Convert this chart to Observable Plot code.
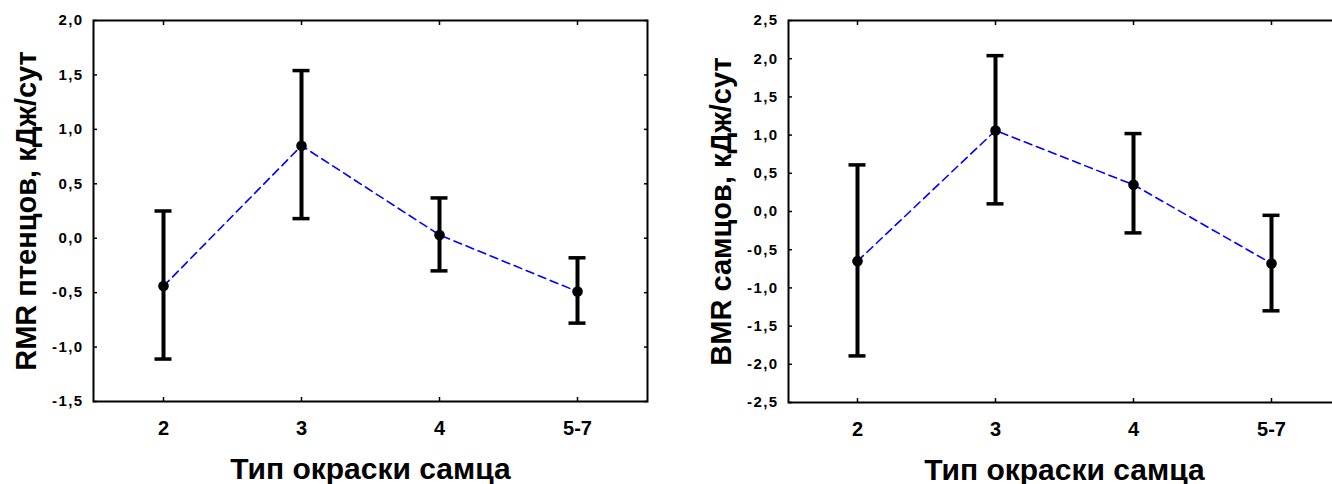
<!DOCTYPE html>
<html><head><meta charset="utf-8">
<script src="https://cdn.jsdelivr.net/npm/d3@7"></script>
<script src="https://cdn.jsdelivr.net/npm/@observablehq/plot@0.6"></script>
<style>
body{margin:0;background:#fff;overflow:hidden}
#wrap{position:relative;width:1332px;height:484px;overflow:hidden;background:#fff}
#a,#b{position:absolute;top:0}
#a{left:0;width:666px}
#b{left:666px;width:684px}
#wrap svg{max-width:none !important}
.yt text{letter-spacing:1.4px}
</style></head><body><div id="wrap"><div id="a"></div><div id="b"></div></div>
<script>
const categories = ["2", "3", "4", "5-7"];
const rmrMean = [-0.44, 0.85, 0.03, -0.49];
const rmrUpper = [0.25, 1.54, 0.37, -0.18];
const rmrLower = [-1.11, 0.18, -0.30, -0.78];
const bmrMean = [-0.65, 1.06, 0.35, -0.68];
const bmrUpper = [0.61, 2.04, 1.02, -0.05];
const bmrLower = [-1.89, 0.10, -0.28, -1.30];
const rmrTicks = [-1.5, -1.0, -0.5, 0.0, 0.5, 1.0, 1.5, 2.0];
const bmrTicks = [-2.5, -2.0, -1.5, -1.0, -0.5, 0.0, 0.5, 1.0, 1.5, 2.0, 2.5];
const xTitle = "Тип окраски самца";
const rmrTitle = "RMR птенцов, кДж/сут";
const bmrTitle = "BMR самцов, кДж/сут";

function chart({mean, upper, lower, ticks, yTitle, width, marginLeft, marginRight, marginBottom}) {
  const data = categories.map((c, i) => ({cat: c, m: mean[i], hi: upper[i], lo: lower[i]}));
  const fmt = d => d.toFixed(1).replace(".", ",");
  const cap = {x1: "cat", x2: "cat", insetLeft: -8.5, insetRight: -8.5, stroke: "#000", strokeWidth: 3.5};
  return Plot.plot({
    width, height: 484, marginTop: 20, marginBottom, marginLeft, marginRight,
    style: {fontFamily: "'Liberation Sans', Arial, sans-serif", fontWeight: "bold", color: "#000", background: "#fff", overflow: "visible", maxWidth: "none"},
    x: {type: "point", domain: categories, padding: 0.5},
    y: {domain: [ticks[0], ticks[ticks.length - 1]]},
    marks: [
      Plot.axisY(ticks, {anchor: "left", tickSize: -4, tickPadding: 14, tickFormat: fmt, fontSize: 15, label: null, strokeWidth: 1.5, className: "yt"}),
      Plot.axisY(ticks, {anchor: "right", tickSize: -4, tickFormat: () => "", label: null, strokeWidth: 1.5}),
      Plot.axisX(categories, {anchor: "bottom", tickSize: -4, tickPadding: 23, fontSize: 20, label: null, strokeWidth: 1.5}),
      Plot.axisX(categories, {anchor: "top", tickSize: -4, tickFormat: () => "", label: null, strokeWidth: 1.5}),
      Plot.frame({stroke: "#000", strokeWidth: 2}),
      Plot.text([xTitle], {frameAnchor: "bottom", dy: 77, lineAnchor: "bottom", fontSize: 30, fontWeight: "bold", fill: "#000"}),
      Plot.text([yTitle], {frameAnchor: "left", dx: -67, rotate: -90, textAnchor: "middle", lineAnchor: "middle", fontSize: 29, fontWeight: "bold", fill: "#000"}),
      Plot.line(data, {x: "cat", y: "m", stroke: "#0000ff", strokeWidth: 1.6, strokeDasharray: "8,5"}),
      Plot.ruleX(data, {x: "cat", y1: "lo", y2: "hi", stroke: "#000", strokeWidth: 4}),
      Plot.ruleY(data, {y: "hi", ...cap}),
      Plot.ruleY(data, {y: "lo", ...cap}),
      Plot.dot(data, {x: "cat", y: "m", r: 5.3, fill: "#000", stroke: null})
    ]
  });
}

document.getElementById("a").append(chart({mean: rmrMean, upper: rmrUpper, lower: rmrLower, ticks: rmrTicks, yTitle: rmrTitle, width: 666, marginLeft: 93, marginRight: 19, marginBottom: 83}));
document.getElementById("b").append(chart({mean: bmrMean, upper: bmrUpper, lower: bmrLower, ticks: bmrTicks, yTitle: bmrTitle, width: 684, marginLeft: 122, marginRight: 10, marginBottom: 82}));
</script></body></html>
